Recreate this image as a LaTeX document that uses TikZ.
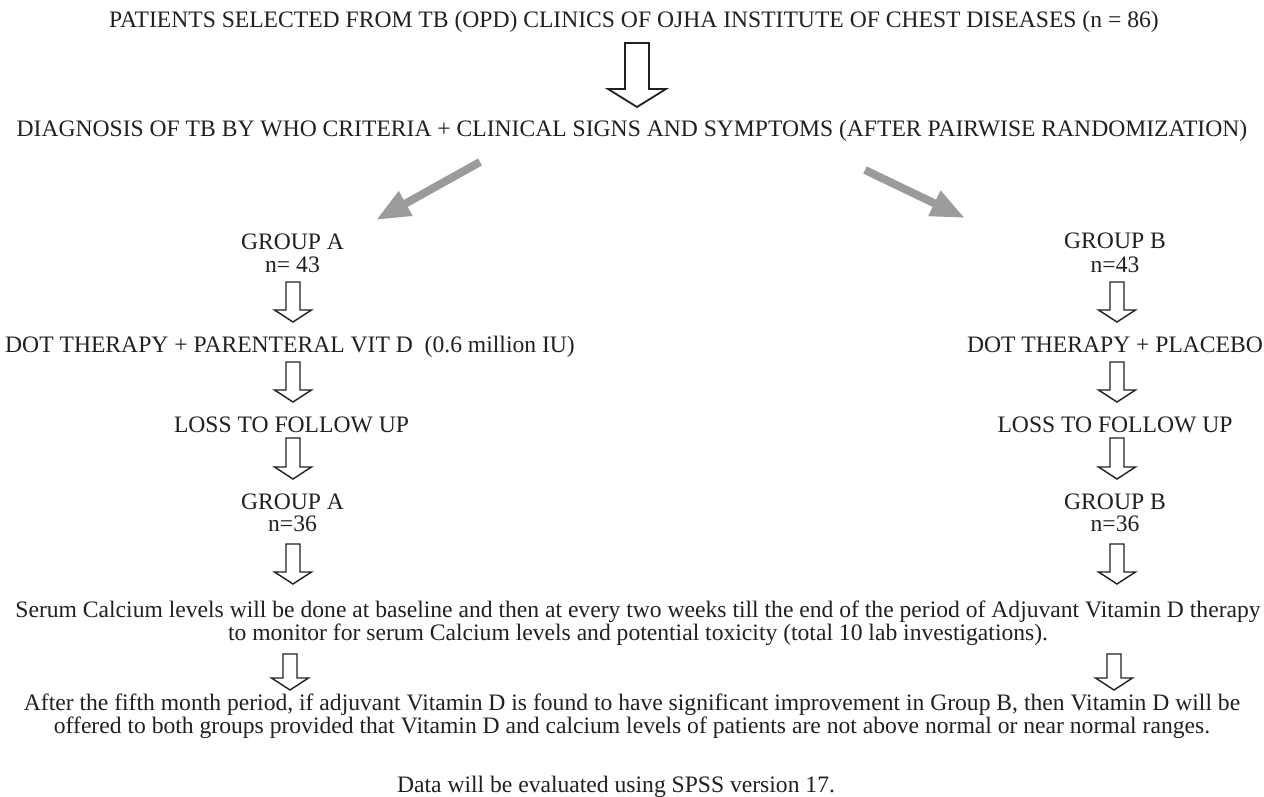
\documentclass[tikz,border=0pt]{standalone}
\usepackage{fontspec}
\setmainfont{Liberation Serif}
\usetikzlibrary{arrows.meta}
\definecolor{txt}{RGB}{35,31,32}
\definecolor{greyarrow}{RGB}{155,155,155}
\newcommand{\hollowdown}[5]{% name, x, top, shoulder, tip
  \coordinate (#1) at (#2,#3);
  \draw[hollow] ({#2-7},#3) -- ({#2+7},#3) -- ({#2+7},#4) -- ({#2+18.5},#4) -- (#2,#5) -- ({#2-18.5},#4) -- ({#2-7},#4) -- cycle;}
\begin{document}
\begin{tikzpicture}[x=1pt,y=-1pt,
  lbl/.style={inner sep=0pt, anchor=base, font=\fontsize{23.6}{20}\selectfont, text=txt, align=center},
  hollow/.style={draw=txt, line width=1.4pt, fill=white, line join=miter},
  greyarr/.style={draw=greyarrow, line width=8pt, -{Triangle[length=34pt,width=26pt]}}
]
\useasboundingbox (0,0) rectangle (1264,797);

\node[lbl] (top) at (634,28) {PATIENTS SELECTED FROM TB (OPD) CLINICS OF OJHA INSTITUTE OF CHEST DISEASES (n = 86)};
\node[lbl] (diag) at (632,137) {DIAGNOSIS OF TB BY WHO CRITERIA + CLINICAL SIGNS AND SYMPTOMS (AFTER PAIRWISE RANDOMIZATION)};

\node[lbl] (ga1) at (292.5,272) {GROUP A\\[3pt]n= 43};
\node[lbl] (gb1) at (1115,272) {GROUP B\\[4pt]n=43};
\node[lbl, anchor=base west] (dota) at (5,352) {DOT THERAPY + PARENTERAL VIT D\ \ (0.6 million IU)};
\node[lbl] (dotb) at (1115,352) {DOT THERAPY + PLACEBO};
\node[lbl] (lossa) at (291.5,432) {LOSS TO FOLLOW UP};
\node[lbl] (lossb) at (1115,432) {LOSS TO FOLLOW UP};
\node[lbl] (ga2) at (292.5,531) {GROUP A\\[2pt]n=36};
\node[lbl] (gb2) at (1115,531) {GROUP B\\[2pt]n=36};
\node[lbl] (serum) at (638,640) {Serum Calcium levels will be done at baseline and then at every two weeks till the end of the period of Adjuvant Vitamin D therapy\\to monitor for serum Calcium levels and potential toxicity (total 10 lab investigations).};
\node[lbl] (after) at (632,733) {After the fifth month period, if adjuvant Vitamin D is found to have significant improvement in Group B, then Vitamin D will be\\offered to both groups provided that Vitamin D and calcium levels of patients are not above normal or near normal ranges.};
\node[lbl] (data) at (616,792) {Data will be evaluated using SPSS version 17.};

% big hollow arrow
\coordinate (bigtop) at (637,43);
\draw[hollow, line width=1.8pt] (625,43) -- (649,43) -- (649,89) -- (666,89) -- (637,107) -- (608,89) -- (625,89) -- cycle;

% grey split arrows
\coordinate (gls) at (480,162);
\coordinate (gle) at (376,220);
\coordinate (grs) at (865,170);
\coordinate (gre) at (965,218);
\draw[greyarr] (gls) -- (gle);
\draw[greyarr] (grs) -- (gre);

% left column arrows
\hollowdown{la1}{293}{282}{310}{322}
\hollowdown{la2}{293}{362}{390}{402}
\hollowdown{la3}{293}{438}{467}{479}
\hollowdown{la4}{293}{544}{572}{584}
\hollowdown{la5}{290}{654}{678}{690}
% right column arrows
\hollowdown{ra1}{1117}{282}{310}{322}
\hollowdown{ra2}{1117}{362}{390}{402}
\hollowdown{ra3}{1117}{438}{467}{479}
\hollowdown{ra4}{1117}{544}{572}{584}
\hollowdown{ra5}{1114}{654}{678}{690}
\end{tikzpicture}
\end{document}
